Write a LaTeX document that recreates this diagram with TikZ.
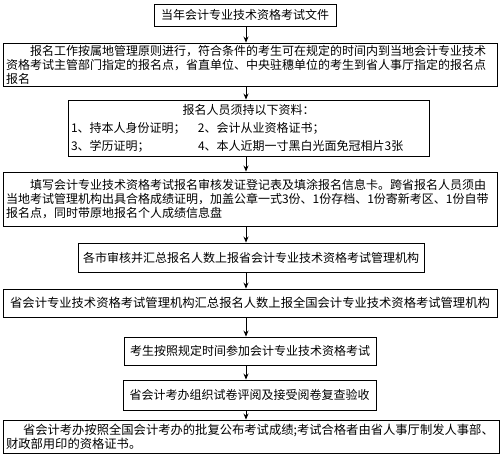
\documentclass[tikz,border=0pt]{standalone}
\usepackage{fontspec}
\setmainfont{Noto Sans CJK SC}
\usetikzlibrary{arrows.meta}
\begin{document}
\begin{tikzpicture}[x=1pt,y=-1pt,
  box/.style={draw=black, line width=0.9pt, inner sep=0pt, font=\fontsize{12}{14}\selectfont},
  wide/.style={box, minimum width=494pt, text width=488pt, align=left},
  arr/.style={-{Stealth[length=6pt,width=5pt]}, line width=0.8pt}]
\useasboundingbox (0,0) rectangle (500,457);
\node[box, minimum width=182pt, minimum height=22pt] (b1) at (245,15) {当年会计专业技术资格考试文件};
\node[wide, minimum height=43pt] (b2) at (250,64.5) {\hspace*{24pt}报名工作按属地管理原则进行，符合条件的考生可在规定的时间内到当地会计专业技术\\资格考试主管部门指定的报名点，省直单位、中央驻穗单位的考生到省人事厅指定的报名点\\报名};
\node[box, minimum width=361pt, minimum height=56pt, text width=355pt, align=left] (b3) at (248.5,128) {\makebox[\linewidth][c]{报名人员须持以下资料：}\\[4pt]\makebox[127pt][l]{1、持本人身份证明；}2、会计从业资格证书；\\[4pt]\makebox[127pt][l]{3、学历证明；}4、本人近期一寸黑白光面免冠相片3张};
\node[wide, minimum height=54pt] (b4) at (250,199) {\hspace*{24pt}填写会计专业技术资格考试报名审核发证登记表及填涂报名信息卡。跨省报名人员须由\\当地考试管理机构出具合格成绩证明，加盖公章一式3份、1份存档、1份寄新考区、1份自带\\报名点，同时带原地报名个人成绩信息盘\par\vspace*{8pt}};
\node[box, minimum width=346pt, minimum height=29pt] (b5) at (251,257.5) {各市审核并汇总报名人数上报省会计专业技术资格考试管理机构};
\node[box, minimum width=494pt, minimum height=28pt, font=\fontsize{12.3}{14}\selectfont] (b6) at (250,303) {省会计专业技术资格考试管理机构汇总报名人数上报全国会计专业技术资格考试管理机构};
\node[box, minimum width=252pt, minimum height=28pt] (b7) at (250,351) {考生按照规定时间参加会计专业技术资格考试};
\node[box, minimum width=253pt, minimum height=30pt] (b8) at (249.5,395) {省会计考办组织试卷评阅及接受阅卷复查验收};
\node[box, minimum width=496pt, text width=490pt, align=left, minimum height=33pt, font=\fontsize{12.3}{14}\selectfont] (b9) at (251,436.5) {\hspace*{17pt}省会计考办按照全国会计考办的批复公布考试成绩;考试合格者由省人事厅制发人事部、\\财政部用印的资格证书。};
\coordinate (ax) at (246,0);
\foreach \a/\b in {b1/b2,b2/b3,b3/b4,b4/b5,b5/b6,b6/b7,b7/b8,b8/b9}
  \draw[arr] (ax |- \a.south) -- (ax |- \b.north);
\end{tikzpicture}
\end{document}
